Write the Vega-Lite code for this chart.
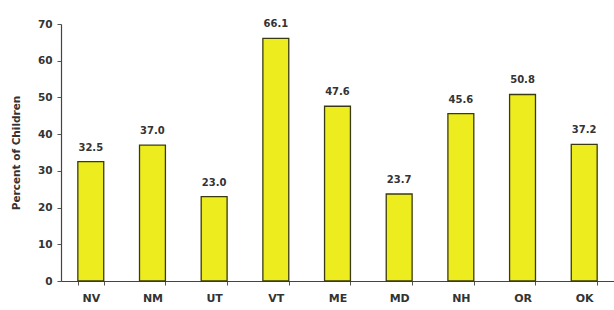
{
  "$schema": "https://vega.github.io/schema/vega-lite/v6.json",
  "autosize": "none",
  "width": 553,
  "height": 257,
  "padding": {"left": 61, "top": 24, "right": 0, "bottom": 29},
  "background": "white",
  "config": {"view": {"stroke": null}, "font": "DejaVu Sans"},
  "data": {"values": [
    {"state": "NV", "pct": 32.5},
    {"state": "NM", "pct": 37.0},
    {"state": "UT", "pct": 23.0},
    {"state": "VT", "pct": 66.1},
    {"state": "ME", "pct": 47.6},
    {"state": "MD", "pct": 23.7},
    {"state": "NH", "pct": 45.6},
    {"state": "OR", "pct": 50.8},
    {"state": "OK", "pct": 37.2}
  ]},
  "encoding": {
    "x": {
      "field": "state", "type": "nominal", "sort": null,
      "scale": {"paddingInner": 0.58, "paddingOuter": 0.273},
      "axis": {
        "title": null, "labelAngle": 0, "labelFont": "DejaVu Sans", "labelFontWeight": "bold",
        "labelFontSize": 11, "labelColor": "#333", "labelPadding": 7,
        "tickBand": "extent", "tickSize": 4, "tickColor": "#555", "domainColor": "#444", "domainWidth": 1.2
      }
    },
    "y": {
      "field": "pct", "type": "quantitative",
      "scale": {"domain": [0, 70], "nice": false},
      "axis": {
        "title": "Percent of Children", "titleFont": "DejaVu Sans", "titleFontSize": 10.5,
        "titleFontWeight": "bold", "titleColor": "#333", "titlePadding": 16,
        "values": [0, 10, 20, 30, 40, 50, 60, 70], "grid": false,
        "labelFont": "DejaVu Sans", "labelFontWeight": "bold", "labelFontSize": 10.5, "labelColor": "#333",
        "tickSize": 4, "tickColor": "#555", "domainColor": "#444", "domainWidth": 1.2, "labelPadding": 5
      }
    }
  },
  "layer": [
    {"mark": {"type": "bar", "color": "#ecec1e", "stroke": "#3a3a10", "strokeWidth": 1.3}},
    {
      "mark": {"type": "text", "dy": -14, "font": "DejaVu Sans", "fontWeight": "bold", "fontSize": 10, "color": "#333"},
      "encoding": {"text": {"field": "pct", "type": "quantitative", "format": ".1f"}}
    }
  ]
}
